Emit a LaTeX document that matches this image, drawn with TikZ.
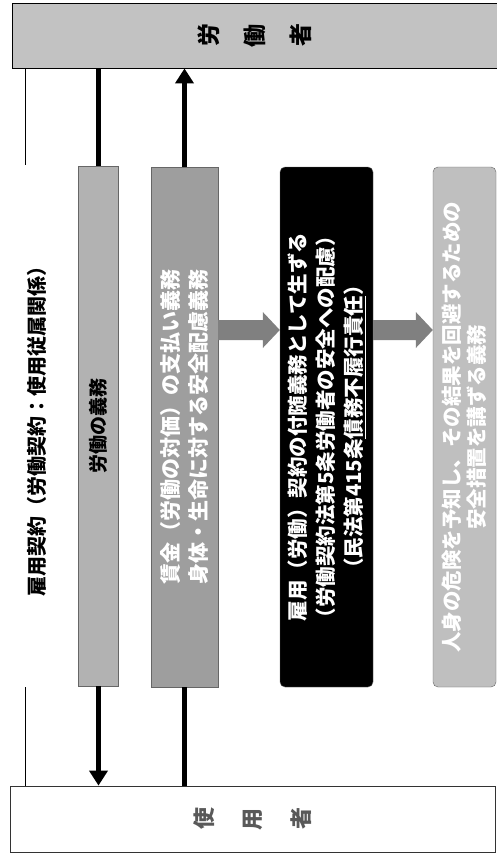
\documentclass[tikz,border=0pt]{standalone}
\usepackage{fontspec}
\newfontfamily\jp{Noto Sans CJK JP}
\usetikzlibrary{arrows.meta,calc}
\begin{document}
\begin{tikzpicture}[x=1pt,y=-1pt,
  every node/.style={font=\jp, inner sep=0pt},
  hbox/.style={draw=black, line width=0.8pt, minimum width=485pt},
  strip/.style={rotate=90, minimum width=520pt, draw=black!60, line width=0.4pt},
  bigline/.style={line width=5pt},
  thinln/.style={line width=1pt},
  tip/.style={-{Triangle[width=18pt,length=15pt]}},
  fat/.style={fill=black!50},
  ]
\fill[white] (0,0) rectangle (497,855);
\useasboundingbox (0,0) rectangle (497,855);

\node[hbox, fill=black!24, minimum height=65pt] (worker) at (254.5,35.5)
  {\fontsize{23pt}{23pt}\selectfont\bfseries\rotatebox[origin=c]{90}{労}\hspace{24pt}\rotatebox[origin=c]{90}{働}\hspace{24pt}\rotatebox[origin=c]{90}{者}};
\node[hbox, fill=white, draw=black!80, minimum height=66pt] (employer) at (252.5,819)
  {\fontsize{22pt}{22pt}\selectfont\bfseries\color{black!65}\rotatebox[origin=c]{90}{使}\hspace{28pt}\rotatebox[origin=c]{90}{用}\hspace{28pt}\rotatebox[origin=c]{90}{者}};

\node[rotate=90, minimum width=522pt, minimum height=30pt,
  font=\jp\bfseries\fontsize{20pt}{24pt}\selectfont] (contract) at (37,426)
  {雇用契約（労働契約：使用従属関係）};

\node[strip, fill=black!30, minimum height=40pt,
  font=\jp\bfseries\fontsize{19pt}{24pt}\selectfont] (duty) at (98.5,426) {労働の義務};
\node[strip, fill=black!38, minimum height=67pt, align=center, text=white,
  font=\jp\bfseries\fontsize{21pt}{28pt}\selectfont] (wage) at (184.5,427)
  {賃金（労働の対価）の支払い義務\\身体・生命に対する安全配慮義務};
\node[strip, fill=black, rounded corners=5pt, minimum height=93pt, align=center, text=white,
  font=\jp\bfseries\fontsize{20.5pt}{28pt}\selectfont] (ancillary) at (326.5,427)
  {雇用（労働）契約の付随義務として生ずる\\（労働契約法第5条労働者の安全への配慮）\\（民法第415条\underline{債務不履行責任}）};
\node[strip, fill=black!25, rounded corners=5pt, minimum height=63pt, align=center, text=white,
  font=\jp\bfseries\fontsize{20.5pt}{25pt}\selectfont] (safety) at (464.5,427)
  {人身の危険を予知し、その結果を回避するための\\安全措置を講ずる義務};

\coordinate (ca) at (25,165);
\coordinate (cb) at (25,687);
\draw[thinln] (worker.south -| ca) -- (ca);
\draw[thinln] (cb) -- (employer.north -| cb);

\draw[bigline] (worker.south -| duty.center) -- (duty.east);
\draw[bigline, tip] (duty.west) -- (employer.north -| duty.center);
\draw[bigline] (employer.north -| wage.center) -- (wage.west);
\draw[bigline, tip] (wage.east) -- (worker.south -| wage.center);

\coordinate (yarr) at (0,330);
\coordinate (f1s) at (wage.south |- yarr);
\coordinate (f1e) at (ancillary.north |- yarr);
\coordinate (f2s) at (ancillary.south |- yarr);
\coordinate (f2e) at (safety.north |- yarr);
\fill[fat] ($(f1s)+(0,-10)$) -- ($(f1e)+(-17,-10)$) -- ($(f1e)+(-17,-18)$) -- (f1e)
  -- ($(f1e)+(-17,18)$) -- ($(f1e)+(-17,10)$) -- ($(f1s)+(0,10)$) -- cycle;
\fill[fat] ($(f2s)+(0,-10)$) -- ($(f2e)+(-17,-10)$) -- ($(f2e)+(-17,-18)$) -- (f2e)
  -- ($(f2e)+(-17,18)$) -- ($(f2e)+(-17,10)$) -- ($(f2s)+(0,10)$) -- cycle;
\end{tikzpicture}
\end{document}
